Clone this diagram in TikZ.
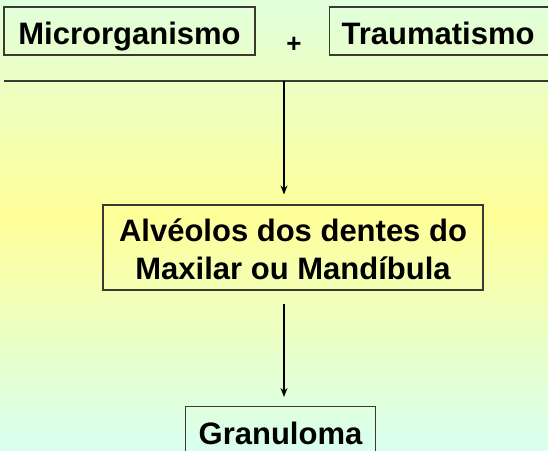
\documentclass[tikz,border=0pt]{standalone}
\usepackage{fontspec}
\setmainfont{Liberation Sans}
\usetikzlibrary{arrows.meta}
\definecolor{topc}{HTML}{E0FFDC}
\definecolor{midc}{HTML}{FFFF99}
\definecolor{botc}{HTML}{D8FFEE}
\definecolor{edge}{HTML}{3A3A30}
\pgfdeclareverticalshading{bgshade}{100bp}{color(0bp)=(botc); color(25bp)=(botc); color(51bp)=(midc); color(75bp)=(topc); color(100bp)=(topc)}
\begin{document}
\begin{tikzpicture}[x=1pt,y=-1pt,
  box/.style={draw=edge, line width=1.1pt, inner sep=0pt, font=\fontsize{31}{38}\selectfont\bfseries},
  onel/.style={text height=27pt, text depth=1pt},
  conn/.style={draw=black, line width=1.1pt, -{Stealth[length=9pt,width=7pt]}},
  rule/.style={draw=edge, line width=1.1pt}]
\useasboundingbox (0,0) rectangle (548,450);
\shade[shading=bgshade] (0,0) rectangle (548,450);
\node[box, onel, minimum width=251pt, minimum height=48pt] (micro) at (129.5,31) {Microrganismo};
\node[box, onel, anchor=west, minimum height=48pt, text width=218pt, align=left, inner xsep=12pt] (trauma) at (329,31) {Traumatismo};
\node[font=\fontsize{26}{30}\selectfont\bfseries, inner sep=0pt] (plus) at (294,45) {+};
\coordinate (hl) at (4,81);
\coordinate (hr) at (560,81);
\coordinate (top) at (284,81);
\draw[rule] (hl) -- (hr);
\node[box, minimum width=380pt, minimum height=85pt, align=center, text height=68pt, text depth=5pt] (mid) at (293,247.5) {Alvéolos dos dentes do\\Maxilar ou Mandíbula};
\node[box, text height=25pt, text depth=1pt, minimum width=190pt, minimum height=51pt] (gran) at (280.5,432) {Granuloma};
\draw[conn, shorten >=10pt] (top) -- (mid.north -| top);
\draw[conn, shorten <=13pt, shorten >=9pt] (mid.south -| top) -- (gran.north -| top);
\end{tikzpicture}
\end{document}
